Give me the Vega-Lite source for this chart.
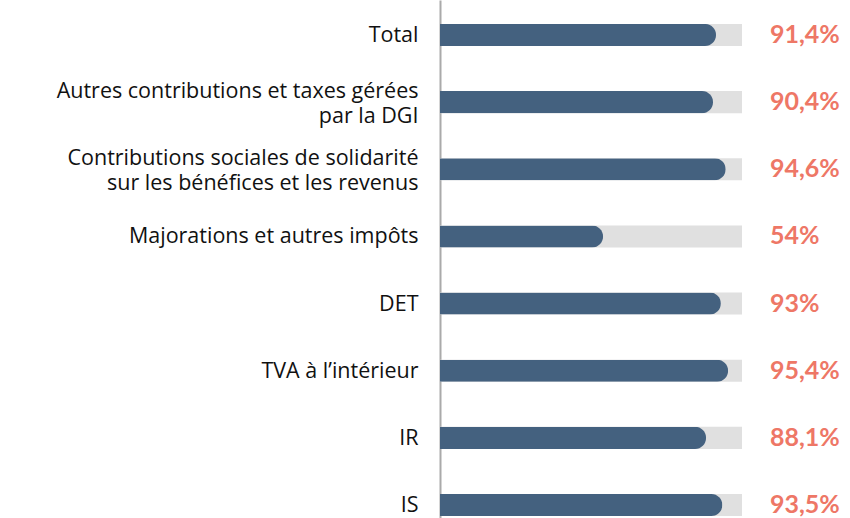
{
  "$schema": "https://vega.github.io/schema/vega-lite/v6.json",
  "width": 302,
  "height": 518,
  "autosize": {"type": "none"},
  "padding": {"left": 440, "top": 0, "right": 108, "bottom": 0},
  "background": "white",
  "config": {"view": {"stroke": null}, "font": "Open Sans"},
  "data": {
    "values": [
      {"cat": "Total", "value": 91.4, "label": "91,4%"},
      {"cat": "Autres contributions et taxes gérées|par la DGI", "value": 90.4, "label": "90,4%"},
      {"cat": "Contributions sociales de solidarité|sur les bénéfices et les revenus", "value": 94.6, "label": "94,6%"},
      {"cat": "Majorations et autres impôts", "value": 54, "label": "54%"},
      {"cat": "DET", "value": 93, "label": "93%"},
      {"cat": "TVA à l’intérieur", "value": 95.4, "label": "95,4%"},
      {"cat": "IR", "value": 88.1, "label": "88,1%"},
      {"cat": "IS", "value": 93.5, "label": "93,5%"}
    ]
  },
  "encoding": {
    "y": {
      "field": "cat",
      "type": "nominal",
      "sort": null,
      "scale": {"range": [0, 540], "paddingInner": 0.672, "paddingOuter": 0.357},
      "axis": {
        "title": null,
        "ticks": false,
        "domainColor": "#aaaaaa",
        "domainWidth": 2,
        "labelExpr": "split(datum.value, '|')",
        "labelFont": "Open Sans",
        "labelFontSize": 21.5,
        "labelColor": "#111111",
        "labelPadding": 22,
        "labelLineHeight": 25,
        "labelLimit": 440,
        "labelOffset": {"condition": {"test": "indexof(datum.value, '|') >= 0", "value": -10}, "value": 1}
      }
    }
  },
  "layer": [
    {
      "mark": {"type": "bar", "color": "#e0e0e0"},
      "encoding": {
        "x": {"datum": 100, "type": "quantitative", "scale": {"domain": [0, 100]}, "axis": null}
      }
    },
    {
      "mark": {"type": "bar", "color": "#44617f", "cornerRadiusEnd": 11},
      "encoding": {
        "x": {"field": "value", "type": "quantitative", "scale": {"domain": [0, 100]}, "axis": null}
      }
    },
    {
      "mark": {"type": "text", "align": "left", "baseline": "middle", "dx": 28, "fontSize": 25, "fontWeight": "bold", "font": "Lato", "color": "#ee7766"},
      "encoding": {
        "x": {"datum": 100, "type": "quantitative"},
        "text": {"field": "label"}
      }
    }
  ]
}
